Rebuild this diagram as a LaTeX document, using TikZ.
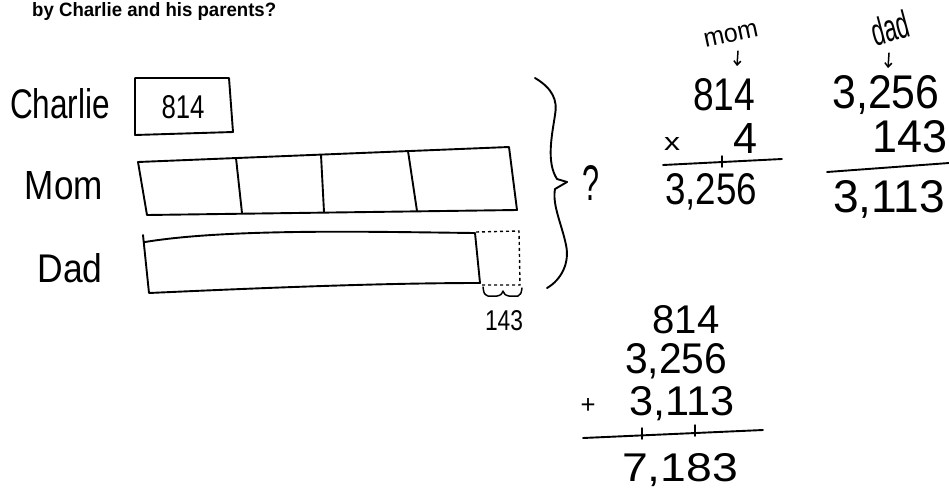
\documentclass[tikz,border=0pt]{standalone}
\usepackage{fontspec}
\usepackage{graphicx}
\setmainfont{Liberation Sans}
\usetikzlibrary{arrows.meta}
\newcommand{\hwfit}[3]{\resizebox{#1pt}{#2pt}{#3}}
\begin{document}
\begin{tikzpicture}[x=1pt,y=-1pt,
  ink/.style={line width=1.9pt, line join=round, line cap=round},
  thinink/.style={line width=1.5pt, line join=round, line cap=round},
  dashink/.style={line width=1.4pt, dash pattern=on 3pt off 3pt},
  hw/.style={inner sep=0pt, outer sep=0pt, font=\fontsize{30}{30}\selectfont},
  arr/.style={thinink, -{Straight Barb[length=4pt,width=7pt]}}]
\useasboundingbox (0,0) rectangle (949,496);
\fill[white] (0,0) rectangle (949,496);

% title
\node[inner sep=0pt, anchor=base west] (title) at (32,16)
  {\hwfit{244}{14}{\bfseries by Charlie and his parents?}};

% labels
\node[hw] (charlie) at (60,104) {\hwfit{100}{30}{Charlie}};
\node[hw] (momlbl) at (64,186) {\hwfit{78}{28}{Mom}};
\node[hw] (dadlbl) at (70,268) {\hwfit{65}{29}{Dad}};

% Charlie box
\draw[ink] (135,78) -- (229,78) -- (233,132) -- (135,135) -- cycle;
\node[hw, anchor=base] (c814) at (183,118) {\hwfit{43}{23}{814}};

% Mom bar
\draw[ink] (138,162) -- (509,147) -- (517,210) -- (147,215) -- cycle;
\draw[ink] (236,158) -- (242,213);
\draw[ink] (321,155) -- (324,212);
\draw[ink] (408,151) -- (417,211);

% Dad bar
\draw[ink] (143,235) -- (149,293) .. controls (260,288) and (380,283) .. (480,283)
  -- (475,233) .. controls (380,232) and (230,228) .. (145,242);
\draw[dashink] (476,232) -- (519,231) -- (520,285) -- (481,285);

% small brace and 143
\draw[thinink] (483,287) .. controls (484,294) .. (488,296) -- (497,296)
  .. controls (501,295) .. (503,291) .. controls (505,295) .. (509,296)
  -- (518,296) .. controls (521,294) .. (522,288);
\node[hw, anchor=base] (d143) at (504,330) {\hwfit{38}{20}{143}};

% big brace
\draw[ink] (535,78) .. controls (552,88) and (558,100) .. (555,115)
  .. controls (552,135) and (546,162) .. (557,179) -- (567,182);
\draw[ink] (567,182) -- (555,189) .. controls (552,205) and (562,225) .. (566,245)
  .. controls (570,263) and (561,280) .. (547,288);
\node[hw] (q) at (591,183) {\hwfit{17}{35}{?}};

% mom computation
\node[hw, rotate=12] (momw) at (731,35) {\hwfit{55}{14}{mom}};
\coordinate (ma1) at (738,51);
\coordinate (ma2) at (737,66);
\draw[arr] (ma1) -- (ma2);
\node[hw, anchor=base] (m814) at (724,110) {\hwfit{62}{32}{814}};
\node[hw, anchor=base] (mx) at (672,150) {\hwfit{16}{13}{x}};
\node[hw, anchor=base] (m4) at (745,153) {\hwfit{24}{30}{4}};
\coordinate (ml1) at (663,165);
\coordinate (ml2) at (782,159);
\draw[ink] (ml1) -- (ml2);
\draw[thinink] (722,156) -- (722,167);
\node[hw, anchor=base] (m3256) at (711,204) {\hwfit{92}{31}{3,256}};

% dad computation
\node[hw, rotate=15] (dadw) at (890,28) {\hwfit{38}{28}{dad}};
\coordinate (da1) at (889,53);
\coordinate (da2) at (888,68);
\draw[arr] (da1) -- (da2);
\node[hw, anchor=base] (d3256) at (886,108) {\hwfit{107}{33}{3,256}};
\node[hw, anchor=base] (d143r) at (910,152) {\hwfit{75}{32}{143}};
\coordinate (dl1) at (827,172);
\coordinate (dl2) at (949,163);
\draw[ink] (dl1) -- (dl2);
\node[hw, anchor=base] (d3113) at (889,212) {\hwfit{112}{32}{3,113}};

% total
\node[hw, anchor=base] (b814) at (686,333) {\hwfit{67}{28}{814}};
\node[hw, anchor=base] (b3256) at (676,373) {\hwfit{102}{30}{3,256}};
\node[hw] (bplus) at (588,406) {\hwfit{15}{15}{+}};
\node[hw, anchor=base] (b3113) at (682,415) {\hwfit{105}{29}{3,113}};
\coordinate (bl1) at (583,438);
\coordinate (bl2) at (763,430);
\draw[ink] (bl1) -- (bl2);
\draw[thinink] (642,428) -- (642,439);
\draw[thinink] (695,425) -- (695,436);
\node[hw, anchor=base] (b7183) at (680,481) {\hwfit{116}{28}{7,183}};
\end{tikzpicture}
\end{document}
